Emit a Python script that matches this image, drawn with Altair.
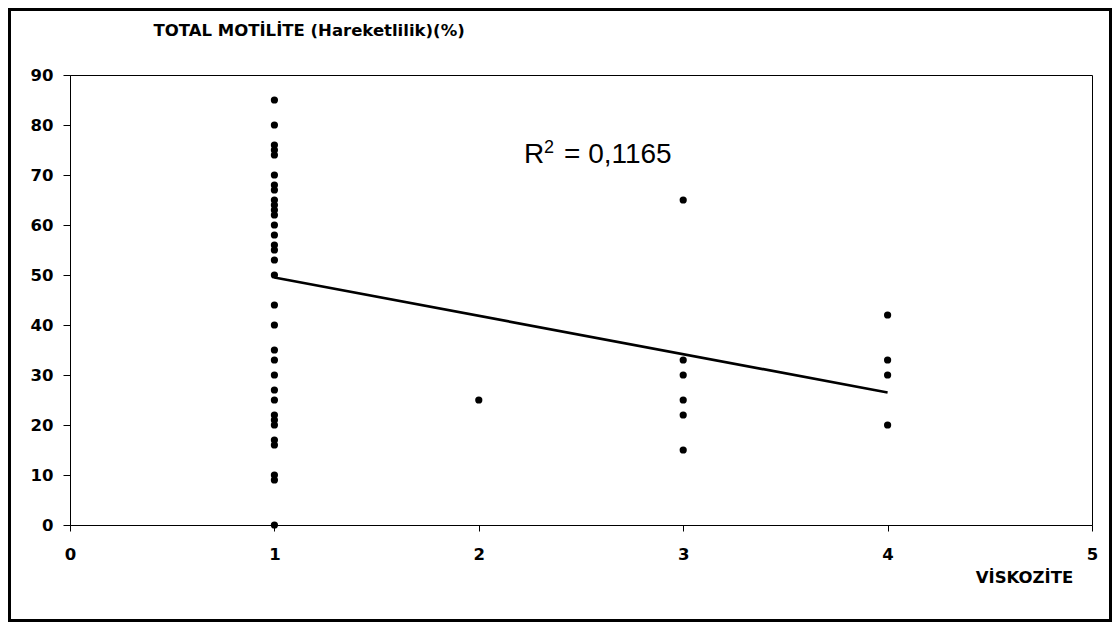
import altair as alt
import pandas as pd

# Data
visc_1 = [85, 80, 76, 75, 74, 70, 68, 67, 65, 64, 63, 62, 60, 58, 56, 55, 53, 50,
          44, 40, 35, 33, 30, 27, 25, 22, 21, 20, 17, 16, 10, 9, 0]
visc_2 = [25]
visc_3 = [65, 33, 30, 25, 22, 15]
visc_4 = [42, 33, 30, 20]

trend_x = [1, 4]
trend_y = [49.5, 26.5]

x_ticks = [0, 1, 2, 3, 4, 5]
y_ticks = [0, 10, 20, 30, 40, 50, 60, 70, 80, 90]

r2_label = "0,1165"

FONT = "Liberation Sans"
BFONT = "DejaVu Sans"

rows = []
for xv, ys in [(1, visc_1), (2, visc_2), (3, visc_3), (4, visc_4)]:
    for yv in ys:
        rows.append({"vis": xv, "mot": yv})
points_df = pd.DataFrame(rows)
trend_df = pd.DataFrame({"vis": trend_x, "mot": trend_y})
one = pd.DataFrame({"a": [0]})

xscale = alt.Scale(domain=[0, 5], nice=False)
yscale = alt.Scale(domain=[0, 90], nice=False)

xaxis = alt.Axis(values=x_ticks, format="d", grid=False, labelFlush=False, labelOverlap=False,
                 labelFont=BFONT, labelFontSize=16.5, labelFontWeight="bold", labelColor="black",
                 tickSize=6, tickColor="black", domainColor="black", labelPadding=15,
                 title="VİSKOZİTE", titleFont=BFONT, titleFontSize=16.5, titleFontWeight="bold",
                 titleColor="black", titleAngle=0, titleAlign="center", titleBaseline="middle",
                 titleX=954, titleY=52)
yaxis = alt.Axis(values=y_ticks, format="d", grid=False, labelOverlap=False,
                 labelFont=BFONT, labelFontSize=16.5, labelFontWeight="bold", labelColor="black",
                 tickSize=7, tickColor="black", domainColor="black", labelPadding=10,
                 title="TOTAL MOTİLİTE (Hareketlilik)(%)", titleFont=BFONT, titleFontSize=16.5,
                 titleFontWeight="bold", titleColor="black", titleAngle=0, titleAlign="left",
                 titleBaseline="middle", titleX=83, titleY=-45)

points = alt.Chart(points_df).mark_circle(size=52, color="black", opacity=1).encode(
    x=alt.X("vis:Q", scale=xscale, axis=xaxis),
    y=alt.Y("mot:Q", scale=yscale, axis=yaxis),
)

trend = alt.Chart(trend_df).mark_line(color="black", strokeWidth=2.6).encode(
    x=alt.X("vis:Q", scale=xscale),
    y=alt.Y("mot:Q", scale=yscale),
)

r_txt = alt.Chart(one).mark_text(text="R", font=FONT, fontSize=28, align="left",
                                 baseline="alphabetic", color="black").encode(
    x=alt.value(454), y=alt.value(88))
sup_txt = alt.Chart(one).mark_text(text="2", font=FONT, fontSize=18, align="left",
                                   baseline="alphabetic", color="black").encode(
    x=alt.value(474), y=alt.value(78))
eq_txt = alt.Chart(one).mark_text(text="= " + r2_label, font=FONT, fontSize=28, align="left",
                                  baseline="alphabetic", color="black").encode(
    x=alt.value(494), y=alt.value(88))

frame = alt.Chart(one).mark_rect(filled=False, stroke="black", strokeWidth=3).encode(
    x=alt.value(-60.5), x2=alt.value(1040.5), y=alt.value(-65.5), y2=alt.value(545.5))

chart = alt.layer(frame, trend, points, r_txt, sup_txt, eq_txt).properties(
    width=1022, height=450,
    autosize=alt.AutoSizeParams(type="none"),
    padding={"left": 62, "top": 67, "right": 20, "bottom": 97},
    background="white",
).configure_view(stroke="black", strokeWidth=1)

chart.save("out.html", embed_options={"renderer": "svg", "actions": False})
